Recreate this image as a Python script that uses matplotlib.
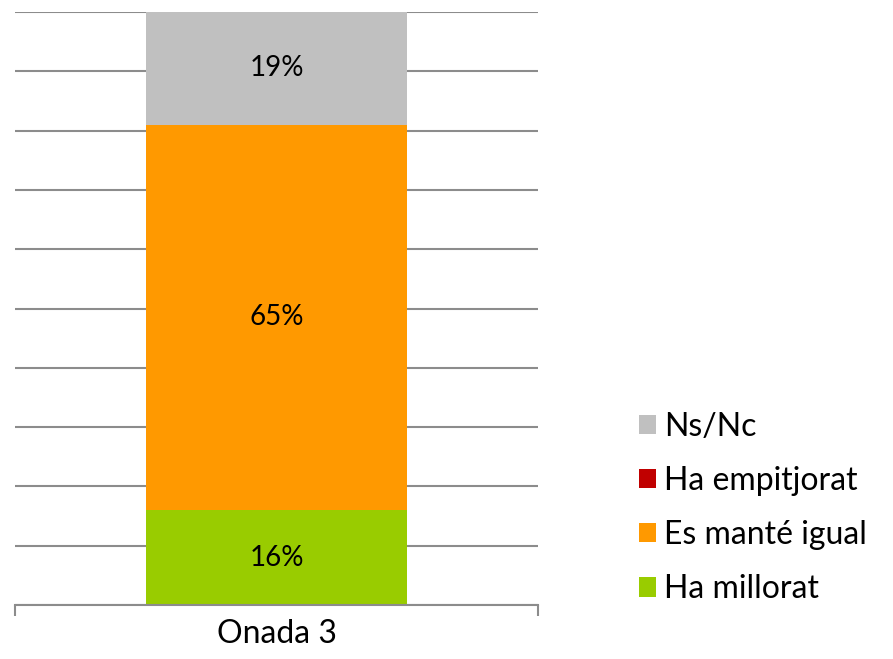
import matplotlib.pyplot as plt
from matplotlib.patches import Patch

plt.rcParams['font.family'] = ['Lato', 'DejaVu Sans']

category = "Onada 3"
series = ["Ha millorat", "Es manté igual", "Ha empitjorat", "Ns/Nc"]
values = [16, 65, 0, 19]
colors = ["#99CC00", "#FF9900", "#C00000", "#C0C0C0"]

fig = plt.figure(figsize=(8.93, 6.59), dpi=100)
ax = fig.add_axes([15 / 893, 54 / 659, 523 / 893, 593 / 659])

bottom = 0
for name, val, col in zip(series, values, colors):
    ax.bar(0, val, width=0.5, bottom=bottom, color=col, label=name, zorder=2)
    if val > 0:
        ax.text(0, bottom + val / 2, f"{val}%", ha="center", va="center",
                fontsize=20, color="black", zorder=3)
    bottom += val

ax.set_xlim(-0.5, 0.5)
ax.set_ylim(0, 100)
ax.set_yticks(range(0, 101, 10))
ax.yaxis.grid(True, color="#8c8c8c", linewidth=1.5, zorder=0)
ax.tick_params(axis="y", left=False, labelleft=False)
ax.set_xticks([-0.5, 0.5], minor=True)
ax.set_xticks([0])
ax.set_xticklabels([category], fontsize=23)
ax.tick_params(axis="x", which="major", length=0, pad=10)
ax.tick_params(axis="x", which="minor", length=8, width=1.5, color="#8c8c8c")
for s in ["left", "right", "top"]:
    ax.spines[s].set_visible(False)
ax.spines["bottom"].set_color("#8c8c8c")
ax.spines["bottom"].set_linewidth(1.5)

handles = [Patch(facecolor=c, label=n) for n, c in zip(series, colors)][::-1]
fig.legend(handles=handles, loc="center left",
           bbox_to_anchor=(626 / 893, (659 - 508) / 659),
           frameon=False, fontsize=23, handlelength=0.55, handleheight=0.55,
           handletextpad=0.25, labelspacing=0.76, borderaxespad=0)

fig.savefig("out.png", dpi=100)
